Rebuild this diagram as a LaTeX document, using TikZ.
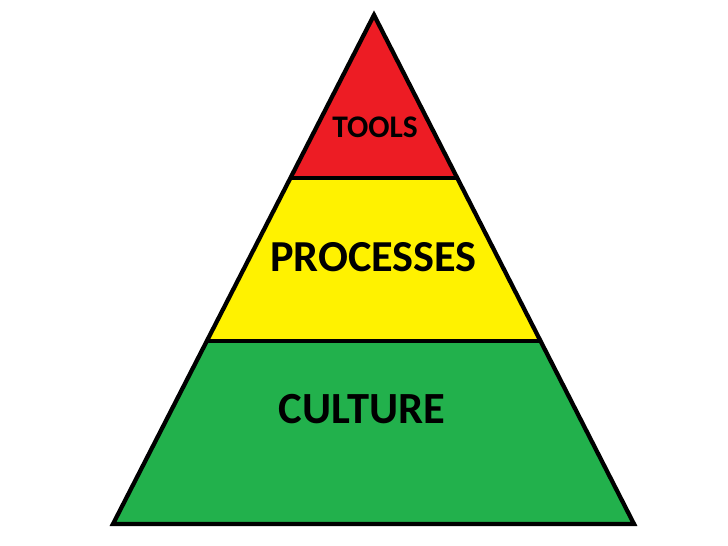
\documentclass[tikz,border=0pt]{standalone}
\usepackage{fontspec}
\setmainfont{Carlito}
\usetikzlibrary{calc}
\definecolor{toolred}{HTML}{ED1C24}
\definecolor{procyellow}{HTML}{FFF200}
\definecolor{cultgreen}{HTML}{22B14C}
\tikzset{
  layer/.style = {draw = black, line width = 3.2pt, line join = miter},
  tag/.style = {anchor = base, inner sep = 0pt, font = \bfseries}
}
\begin{document}
\begin{tikzpicture}[x = .75pt, y = -.75pt]
  \useasboundingbox (0,0) rectangle (728,546);
  \coordinate (top) at (374,15);
  \coordinate (bl) at (113,524);
  \coordinate (br) at (634,524);
  \coordinate (ml1) at ($(top)!{163/509}!(bl)$);
  \coordinate (mr1) at ($(top)!{163/509}!(br)$);
  \coordinate (ml2) at ($(top)!{326/509}!(bl)$);
  \coordinate (mr2) at ($(top)!{326/509}!(br)$);
  \fill [cultgreen] (ml2) -- (mr2) -- (br) -- (bl) -- cycle;
  \fill [procyellow] (ml1) -- (mr1) -- (mr2) -- (ml2) -- cycle;
  \fill [toolred] (top) -- (mr1) -- (ml1) -- cycle;
  \draw [layer] (top) -- (br) -- (bl) -- cycle;
  \draw [layer] (ml1) -- (mr1);
  \draw [layer] (ml2) -- (mr2);
  \node [tag, font = \fontsize{23.6}{23.6}\selectfont\bfseries] (tools) at (375,137) {TOOLS};
  \node [tag, font = \fontsize{33.2}{33.2}\selectfont\bfseries] (processes) at (373.5,271) {PROCESSES};
  \node [tag, font = \fontsize{33.4}{33.4}\selectfont\bfseries] (culture) at (362,423) {CULTURE};
\end{tikzpicture}
\end{document}
